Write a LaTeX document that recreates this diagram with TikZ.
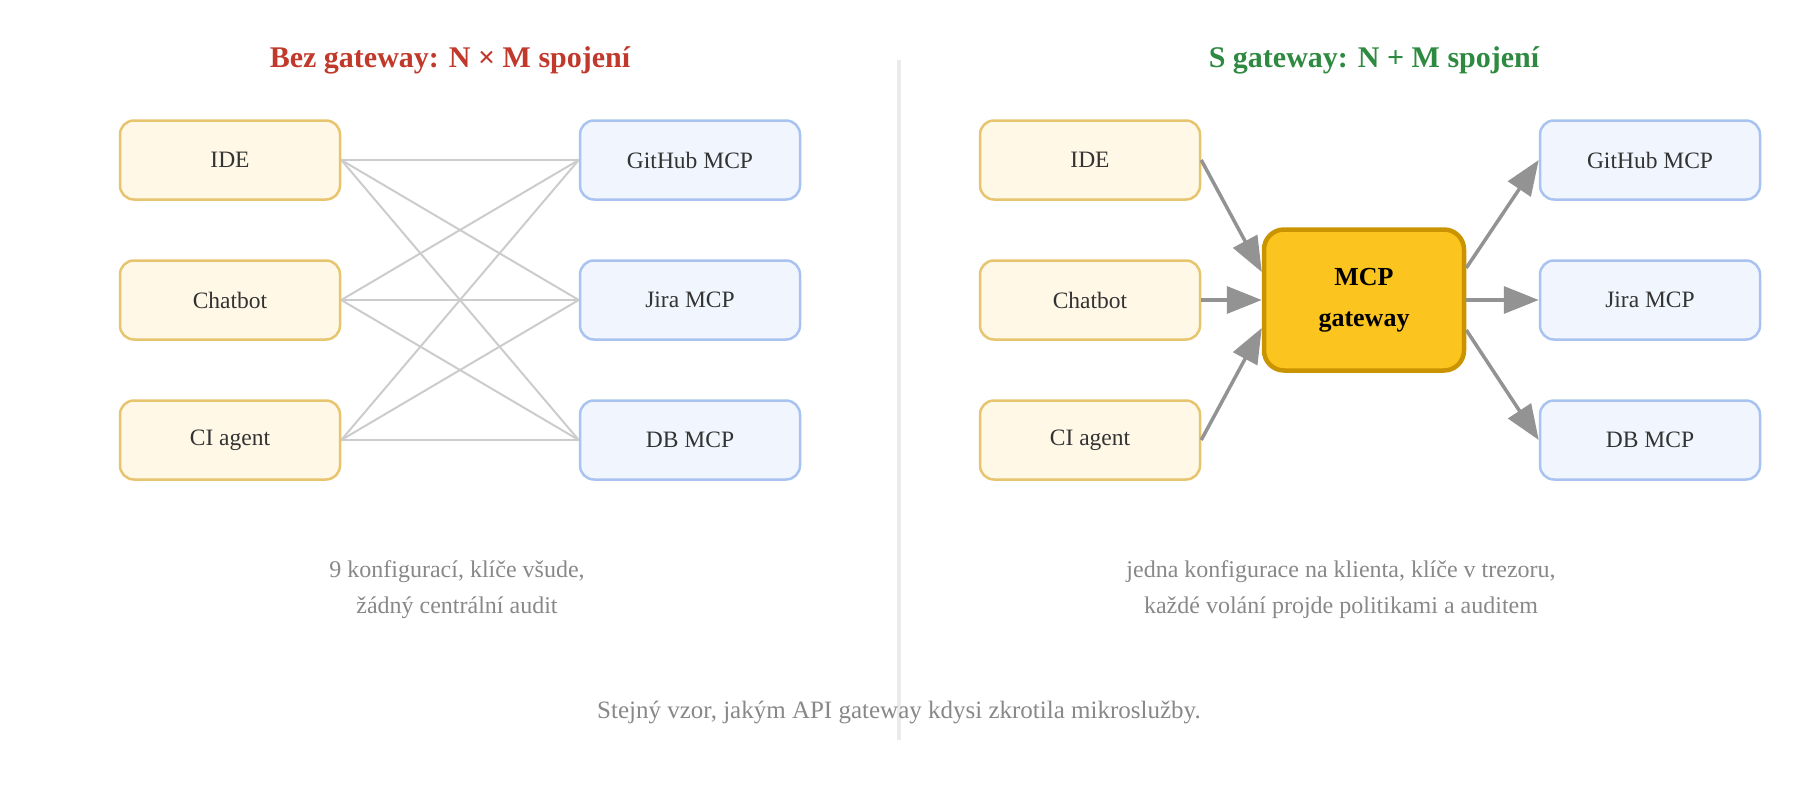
\documentclass[tikz,border=0pt]{standalone}
\usepackage{fontspec}
\setmainfont{Liberation Serif}
\usepackage{tikz}
\usetikzlibrary{arrows.meta,calc}

\definecolor{clientfill}{HTML}{FFF8E7}
\definecolor{clientline}{HTML}{E6C56E}
\definecolor{serverfill}{HTML}{F1F6FE}
\definecolor{serverline}{HTML}{A9C3F0}
\definecolor{gwfill}{HTML}{FBC41E}
\definecolor{gwline}{HTML}{C99400}
\definecolor{wirecol}{HTML}{CCCCCC}
\definecolor{arrowcol}{HTML}{939393}
\definecolor{badred}{HTML}{C0392B}
\definecolor{goodgreen}{HTML}{2E8A40}
\definecolor{notegray}{HTML}{888888}
\definecolor{textdark}{HTML}{333333}

\begin{document}
\begin{tikzpicture}[x=1pt,y=-1pt,
    client/.style={draw=clientline, fill=clientfill, line width=2.5pt, rounded corners=14pt,
        minimum width=220pt, minimum height=79pt, text=textdark, font=\fontsize{23.5}{28}\selectfont},
    server/.style={client, draw=serverline, fill=serverfill},
    gwbox/.style={draw=gwline, fill=gwfill, line width=4.5pt, rounded corners=20pt,
        minimum width=200pt, minimum height=141pt, align=center,
        font=\fontsize{26}{41}\selectfont\bfseries},
    wire/.style={draw=wirecol, line width=2pt},
    flow/.style={draw=arrowcol, line width=3.5pt, -{Triangle[length=35pt,width=27pt]}},
    title/.style={font=\fontsize{30}{36}\selectfont\bfseries},
    note/.style={text=notegray, align=center, font=\fontsize{24}{36}\selectfont}]
    \useasboundingbox (0,0) rectangle (1800,800);

    % Divider
    \draw[draw=black!8, line width=3.5pt] (899,60) -- (899,740);

    % Left: without gateway
    \node[title, text=badred] (ltitle) at (450,60) {Bez gateway: N × M spojení};
    \node[client] (lide) at (230,160) {IDE};
    \node[client] (lchat) at (230,300) {Chatbot};
    \node[client] (lci) at (230,440) {CI agent};
    \node[server] (lgh) at (690,160) {GitHub MCP};
    \node[server] (ljira) at (690,300) {Jira MCP};
    \node[server] (ldb) at (690,440) {DB MCP};

    % Every client to every server
    \foreach \c in {lide,lchat,lci}
      \foreach \s in {lgh,ljira,ldb}
        \draw[wire] (\c.east) -- (\s.west);

    \node[note] (lnote) at (457,590) {9 konfigurací, klíče všude,\\žádný centrální audit};

    % Right: with gateway
    \node[title, text=goodgreen] (rtitle) at (1374,60) {S gateway: N + M spojení};
    \node[client] (ride) at (1090,160) {IDE};
    \node[client] (rchat) at (1090,300) {Chatbot};
    \node[client] (rci) at (1090,440) {CI agent};
    \node[gwbox] (gw) at (1364,300) {MCP\\gateway};
    \node[server] (rgh) at (1650,160) {GitHub MCP};
    \node[server] (rjira) at (1650,300) {Jira MCP};
    \node[server] (rdb) at (1650,440) {DB MCP};

    % Into the gateway
    \draw[flow] (ride.east) -- ($(gw.west)+(0,-28)$);
    \draw[flow] (rchat.east) -- (gw.west);
    \draw[flow] (rci.east) -- ($(gw.west)+(0,28)$);

    % Out of the gateway
    \draw[flow] ($(gw.east)+(0,-32)$) -- (rgh.west);
    \draw[flow] (gw.east) -- (rjira.west);
    \draw[flow] ($(gw.east)+(0,30)$) -- (rdb.west);

    \node[note] (rnote) at (1341,590) {jedna konfigurace na klienta, klíče v trezoru,\\každé volání projde politikami a auditem};

    % Footer
    \node[note, font=\fontsize{25}{30}\selectfont] (footer) at (899,712) {Stejný vzor, jakým API gateway kdysi zkrotila mikroslužby.};
\end{tikzpicture}
\end{document}
